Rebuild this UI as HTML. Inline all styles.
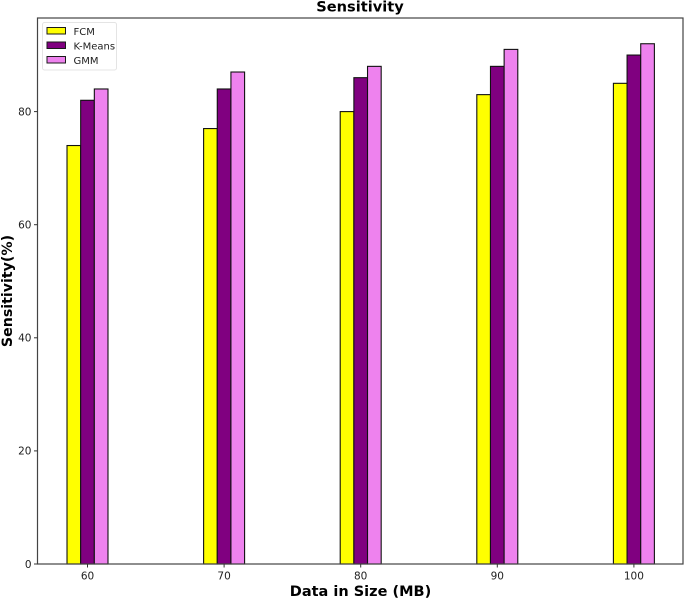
<!DOCTYPE html>
<html>
<head>
<meta charset="utf-8">
<style>
html,body{margin:0;padding:0;background:#fff;width:685px;height:599px;overflow:hidden}
svg{display:block;font-family:"DejaVu Sans","Liberation Sans",sans-serif;filter:blur(0.35px)}
</style>
</head>
<body>
<svg id="chart" xmlns="http://www.w3.org/2000/svg" width="685" height="599" viewBox="0 0 685 599"></svg>
<script>
const categories = [60, 70, 80, 90, 100];
const seriesNames = ['FCM', 'K-Means', 'GMM'];
const fcmValues = [74, 77, 80, 83, 85];
const kmeansValues = [82, 84, 86, 88, 90];
const gmmValues = [84, 87, 88, 91, 92];
const yTickLabels = [0, 20, 40, 60, 80];
const chartTitle = 'Sensitivity';
const xAxisTitle = 'Data in Size (MB)';
const yAxisTitle = 'Sensitivity(%)';

const svg = document.getElementById('chart');
const NS = 'http://www.w3.org/2000/svg';
const plot = {left: 37.5, right: 683, top: 18, bottom: 564};
const xPerUnit = 13.66;
const yPerUnit = 5.655;
const axisX = v => 87.5 + (v - 60) * xPerUnit;
const axisY = v => plot.bottom - v * yPerUnit;
const seriesColors = ['#ffff00', '#800080', '#ee82ee'];
const allSeries = [fcmValues, kmeansValues, gmmValues];

function make(tag, attrs, parent) {
  const el = document.createElementNS(NS, tag);
  for (const k in attrs) el.setAttribute(k, attrs[k]);
  (parent || svg).appendChild(el);
  return el;
}

allSeries.forEach((vals, s) => {
  vals.forEach((v, i) => {
    const bar = make('rect', {
      x: axisX(categories[i] + (s - 1) - 0.5),
      y: axisY(v),
      width: xPerUnit,
      height: axisY(0) - axisY(v),
      fill: seriesColors[s],
      stroke: '#111',
      'stroke-width': 1.1
    });
    
    
  });
});

const frame = make('rect', {
  x: plot.left, y: plot.top,
  width: plot.right - plot.left,
  height: plot.bottom - plot.top,
  fill: 'none', stroke: '#444', 'stroke-width': 1.2
});



yTickLabels.forEach(t => {
  const y = axisY(t);
  const mark = make('line', {x1: plot.left - 3.5, x2: plot.left, y1: y, y2: y, stroke: '#333', 'stroke-width': 1});
  
  
  const lab = make('text', {x: plot.left - 6, y: y + 3.8, 'text-anchor': 'end', 'font-size': 10.5, fill: '#222'});
  lab.textContent = t;
  
  
});

categories.forEach(c => {
  const x = axisX(c);
  const mark = make('line', {x1: x, x2: x, y1: plot.bottom, y2: plot.bottom + 3.5, stroke: '#333', 'stroke-width': 1});
  
  
  const lab = make('text', {x: x, y: 579.5, 'text-anchor': 'middle', 'font-size': 10.5, fill: '#222'});
  lab.textContent = c;
  
  
});

const title = make('text', {x: 360, y: 11.5, 'text-anchor': 'middle', 'font-size': 14.6, 'font-weight': 'bold', fill: '#000'});
title.textContent = chartTitle;



const xTitle = make('text', {x: 360.5, y: 596, 'text-anchor': 'middle', 'font-size': 14.5, 'font-weight': 'bold', fill: '#000'});
xTitle.textContent = xAxisTitle;



const yTitle = make('text', {x: 0, y: 0, transform: 'translate(12,291) rotate(-90)', 'text-anchor': 'middle', 'font-size': 14.2, 'font-weight': 'bold', fill: '#000'});
yTitle.textContent = yAxisTitle;



const legend = make('g', {});


const legendBox = make('rect', {x: 42.5, y: 22.5, width: 74, height: 47.5, rx: 2, fill: '#fff', stroke: '#e4e4e4', 'stroke-width': 1}, legend);


seriesNames.forEach((name, s) => {
  const y = 31 + s * 14.5;
  const swatch = make('rect', {x: 47, y: y - 3.5, width: 18.5, height: 6.5, fill: seriesColors[s], stroke: '#1a1a1a', 'stroke-width': 1}, legend);
  
  
  const label = make('text', {x: 73.5, y: y + 3.8, 'font-size': 10, fill: '#222'}, legend);
  label.textContent = name;
  
  
});
</script>
</body>
</html>
